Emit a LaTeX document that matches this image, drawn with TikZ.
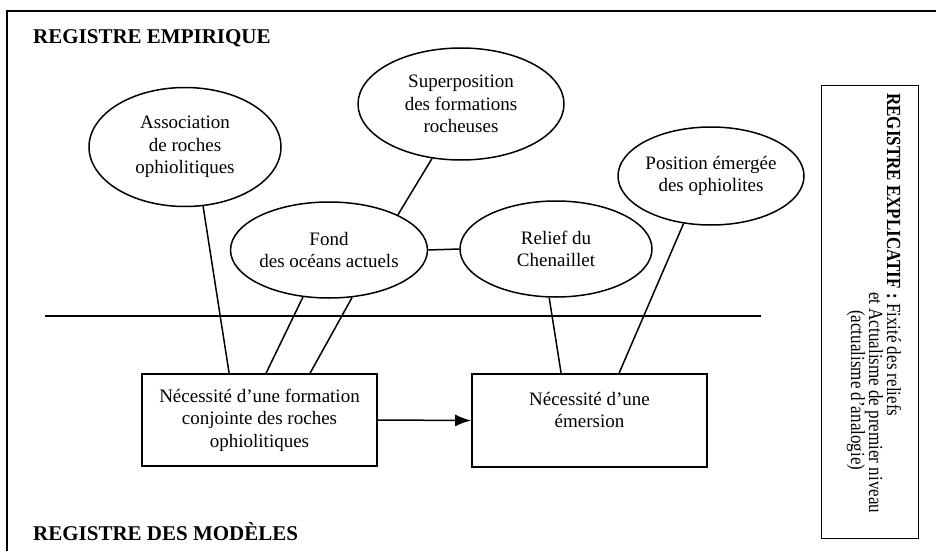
\documentclass[tikz,border=0pt]{standalone}
\usepackage{fontspec}
\setmainfont{Liberation Serif}
\newfontfamily\sidefont{Liberation Serif}[FakeStretch=0.85]
\usetikzlibrary{shapes.geometric,arrows.meta,calc}

\tikzset{
  idea/.style={ellipse, draw, line width=1.5pt, inner sep=0pt, align=center,
               font=\fontsize{19}{22.5}\selectfont},
  need/.style={rectangle, draw, line width=1.8pt, inner sep=0pt, align=center,
               minimum width=235pt, font=\fontsize{19}{22.5}\selectfont},
  txt/.style={inner sep=0pt, align=center, font=\fontsize{19}{22.5}\selectfont},
  heading/.style={inner sep=0pt, anchor=base west, font=\fontsize{21}{25}\selectfont\bfseries},
  side/.style={inner sep=0pt, rotate=-90, anchor=base west, font=\sidefont\fontsize{20}{24}\selectfont},
  link/.style={line width=1.5pt},
  frame/.style={line width=1.8pt}
}

\begin{document}
\begin{tikzpicture}[x=1pt,y=-1pt]
  \useasboundingbox (0,0) rectangle (936,551);

  % outer frame (top and left edges)
  \coordinate (ftl) at (7,11);
  \coordinate (ftr) at (936,11);
  \coordinate (fbl) at (7,551);
  \draw[frame] (ftr) -- (ftl) -- (fbl);

  % headings
  \node[heading] (emp) at (33,44) {REGISTRE EMPIRIQUE};
  \node[heading] (mod) at (33,540) {REGISTRE DES MODÈLES};

  % explanatory register
  \node[draw, line width=1.6pt, minimum width=97pt, minimum height=453pt, inner sep=0pt]
       (expl) at (870,312) {};
  \node[side] (expl1) at (887,93) {\textbf{REGISTRE EXPLICATIF :} Fixité des reliefs};
  \node[side] (expl2) at (869,292) {et Actualisme de premier niveau};
  \node[side] (expl3) at (851,310) {(actualisme d’analogie)};

  % empirical facts
  \node[idea, minimum width=192pt, minimum height=119pt] (assoc) at (185,147)
       {Association\\de roches\\ophiolitiques};
  \node[idea, minimum width=206pt, minimum height=112pt] (super) at (461,104)
       {Superposition\\des formations\\rocheuses};
  \node[idea, minimum width=192pt, minimum height=96pt] (fond) at (329,250)
       {Fond\\des océans actuels};
  \node[idea, minimum width=192pt, minimum height=96pt] (relief) at (556,249)
       {Relief du\\Chenaillet};
  \node[idea, minimum width=186pt, minimum height=98pt] (pos) at (711,176)
       {Position émergée\\des ophiolites};

  % separation between registers
  \coordinate (sepl) at (45,316);
  \coordinate (sepr) at (761,316);
  \draw[frame] (sepl) -- (sepr);

  % model requirements
  \node[need, minimum height=92pt] (box1) at (259.5,420)
       {Nécessité d’une formation\\conjointe des roches\\ophiolitiques};
  \node[need, minimum height=93pt] (box2) at (589.5,420.5) {};
  \node[txt] (box2txt) at (589.5,410) {Nécessité d’une\\émersion};

  % links
  \draw[link] (super.-118) -- (fond.27);
  \draw[link] (fond.east) -- (relief.west);
  \draw[link] (assoc.-73) -- ($(box1.north west)+(88,0)$);
  \draw[link] (fond.-119) -- ($(box1.north west)+(125,0)$);
  \draw[link] (fond.-64) -- ($(box1.north west)+(169,0)$);
  \draw[link] (relief.-98) -- ($(box2.north west)+(90,0)$);
  \draw[link] (pos.-120) -- ($(box2.north west)+(148,0)$);
  \draw[link, -{Latex[length=16pt,width=12pt]}] (box1.east) -- (box2.west);
\end{tikzpicture}
\end{document}
